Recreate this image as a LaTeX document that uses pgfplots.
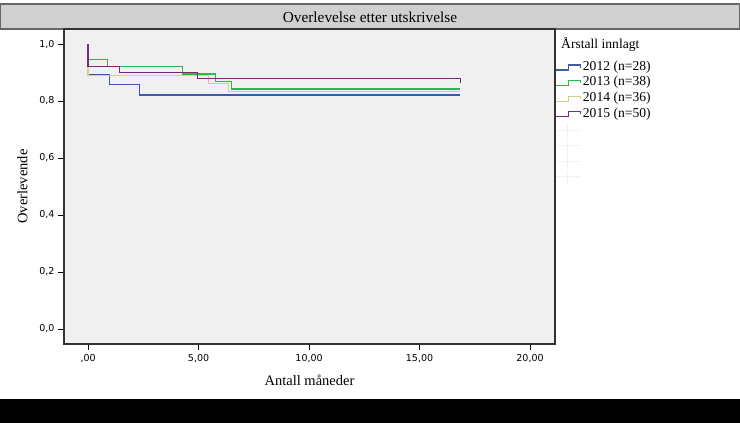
\documentclass[border=0pt]{standalone}
\usepackage{fontspec}
\setmainfont{Liberation Serif}
\newfontfamily\tickfont{DejaVu Sans}
\usepackage{pgfplots}
\pgfplotsset{compat=1.18}
\definecolor{c2012}{HTML}{3E58AC}
\definecolor{c2013}{HTML}{2EB848}
\definecolor{c2014}{HTML}{D3CE97}
\definecolor{c2015}{HTML}{7C287D}
\definecolor{plotbg}{HTML}{F0F0F0}
\definecolor{titlebg}{HTML}{D0D0D0}
\definecolor{framecol}{HTML}{333333}

\begin{document}
\begin{tikzpicture}
\path[use as bounding box] (0pt,0pt) rectangle (740pt,423pt);
\fill[black] (0pt,0pt) rectangle (740pt,24pt);
\filldraw[fill=titlebg, draw=gray!80!black, line width=1.2pt] (0.6pt,394pt) rectangle (739.4pt,419pt);
\node at (370pt,406pt) {\fontsize{15.3}{17}\selectfont Overlevelse etter utskrivelse};
\node[anchor=west, inner sep=0pt] at (561pt,379pt) {\fontsize{13.6}{15}\selectfont Årstall innlagt};

\begin{axis}[
    at={(64pt,79pt)}, anchor=south west,
    scale only axis,
    width=491pt, height=315pt,
    xmin=-1.09, xmax=21.13,
    ymin=-0.0528, ymax=1.0528,
    axis background/.style={fill=plotbg},
    axis line style={draw=framecol, line width=1.3pt},
    xtick={0,5,10,15,20},
    xticklabels={{,00},{5,00},{10,00},{15,00},{20,00}},
    ytick={0,0.2,0.4,0.6,0.8,1},
    yticklabels={{0,0},{0,2},{0,4},{0,6},{0,8},{1,0}},
    tick align=outside,
    major tick length=6pt,
    tick style={draw=black, line width=0.9pt},
    xtick pos=bottom, ytick pos=left,
    ticklabel style={font=\tickfont\fontsize{9.5}{11}\selectfont},
    xticklabel style={yshift=-1pt},
    xlabel={\fontsize{14.5}{16}\selectfont Antall måneder},
    ylabel={\fontsize{14.5}{16}\selectfont Overlevende},
    xlabel style={yshift=-5pt},
    ylabel style={yshift=5pt},
    clip=false,
    legend style={at={(1.0,0.903)}, anchor=north west, draw=none, fill=none,
        inner sep=0pt, font=\fontsize{13.6}{15}\selectfont,
        nodes={inner xsep=1.5pt, inner ysep=0pt, text height=10.5pt, text depth=5.1pt}},
    legend cell align=left,
    legend image code/.code={\draw[#1] (0pt,-2.5pt) -- (13pt,-2.5pt) -- (13pt,2.5pt) -- (25pt,2.5pt) -- (25pt,0pt);},
    every axis plot/.append style={const plot, line width=1.2pt, mark=none},
]
\addplot[c2012] coordinates {(0,1.0) (0,0.893) (0.96,0.857) (2.32,0.821) (16.85,0.821)};
\addlegendentry{2012 (n=28)}
\addplot[c2013] coordinates {(0,1.0) (0,0.947) (0.87,0.921) (4.28,0.895) (5.75,0.868) (6.5,0.842) (16.85,0.842)};
\addlegendentry{2013 (n=38)}
\addplot[c2014] coordinates {(0,1.0) (0,0.889) (5.44,0.861) (6.35,0.833) (16.85,0.833)};
\addlegendentry{2014 (n=36)}
\addplot[c2015] coordinates {(0,1.0) (0,0.92) (1.42,0.90) (4.95,0.88) (16.85,0.88) (16.85,0.865)};
\addlegendentry{2015 (n=50)}
\addlegendimage{legend image code/.code={\draw[gray!10, line width=0.8pt] (0pt,0pt) -- (25pt,0pt); \draw[gray!10, line width=0.8pt] (12pt,-7pt) -- (12pt,7pt);}}
\addlegendentry{}
\addlegendimage{legend image code/.code={\draw[gray!10, line width=0.8pt] (0pt,0pt) -- (25pt,0pt); \draw[gray!10, line width=0.8pt] (12pt,-7pt) -- (12pt,7pt);}}
\addlegendentry{}
\addlegendimage{legend image code/.code={\draw[gray!10, line width=0.8pt] (0pt,0pt) -- (25pt,0pt); \draw[gray!10, line width=0.8pt] (12pt,-7pt) -- (12pt,7pt);}}
\addlegendentry{}
\addlegendimage{legend image code/.code={\draw[gray!10, line width=0.8pt] (0pt,0pt) -- (25pt,0pt); \draw[gray!10, line width=0.8pt] (12pt,-7pt) -- (12pt,7pt);}}
\addlegendentry{}
\end{axis}
\end{tikzpicture}
\end{document}
